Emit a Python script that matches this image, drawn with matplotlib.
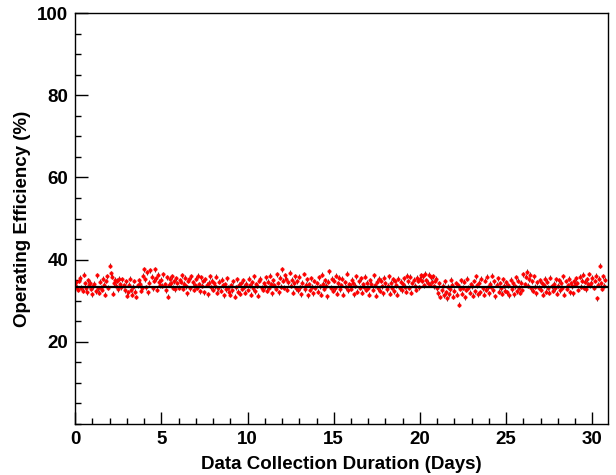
import numpy as np
import matplotlib
matplotlib.use("Agg")
import matplotlib.pyplot as plt
from matplotlib.ticker import MultipleLocator

# operating efficiency (%) sampled every 1.5 h, one row per day
efficiency = [
    33.8, 34.5, 33.2, 32.6, 34.9, 35.6, 33.1, 32.4, 36.3, 34.2, 33.0, 32.1, 35.0, 33.7, 34.4, 32.9,
    31.6, 33.5, 34.1, 32.3, 36.2, 33.0, 31.9, 34.6, 33.2, 32.7, 35.4, 33.9, 31.4, 34.8, 35.9, 33.1,
    38.5, 36.7, 35.8, 31.7, 34.2, 35.1, 33.6, 34.9, 32.8, 35.4, 34.0, 33.3, 35.2, 33.8, 32.5, 34.7,
    31.2, 32.0, 33.9, 35.3, 32.6, 31.5, 33.4, 34.8, 32.2, 30.9, 33.7, 35.0, 34.1, 32.4, 33.1, 36.1,
    37.6, 35.2, 33.3, 36.9, 32.1, 34.4, 37.4, 35.8, 33.0, 34.9, 37.6, 35.5, 32.7, 36.3, 34.6, 33.8,
    35.1, 33.6, 36.4, 34.0, 32.5, 35.7, 31.0, 33.9, 35.3, 34.2, 35.9, 33.1, 34.7, 32.8, 35.5, 34.3,
    33.2, 35.0, 34.6, 36.2, 32.9, 34.1, 35.6, 33.5, 31.8, 34.9, 35.2, 33.0, 36.0, 34.5, 32.6, 33.7,
    35.4, 33.1, 36.1, 34.0, 32.3, 35.7, 33.6, 34.8, 32.0, 35.2, 33.9, 31.6, 34.4, 36.0, 33.3, 34.9,
    32.7, 34.2, 33.5, 35.8, 31.9, 33.0, 34.6, 32.4, 35.1, 33.7, 31.3, 34.0, 32.8, 35.5, 33.2, 32.1,
    31.4, 33.8, 32.5, 34.7, 31.0, 33.3, 35.2, 32.2, 33.9, 31.7, 34.3, 32.9, 35.0, 33.4, 31.9, 34.1,
    32.6, 35.3, 33.7, 31.5, 34.5, 33.0, 35.9, 32.3, 34.0, 33.6, 31.2, 34.8, 35.4, 33.1, 32.7, 34.2,
    33.5, 35.7, 32.4, 34.6, 33.2, 36.1, 34.0, 31.8, 35.0, 33.8, 32.9, 36.4, 34.3, 32.1, 35.6, 33.4,
    37.6, 34.9, 33.1, 36.2, 35.4, 32.7, 34.5, 36.8, 33.6, 35.1, 31.9, 34.2, 36.0, 33.0, 34.7, 32.5,
    35.8, 33.3, 31.6, 34.4, 36.5, 32.8, 33.9, 35.2, 31.3, 34.0, 32.6, 35.5, 33.4, 31.8, 34.8, 33.1,
    34.3, 32.2, 35.7, 33.5, 31.5, 36.3, 34.1, 32.9, 35.0, 33.6, 31.1, 34.6, 37.2, 33.2, 35.3, 32.4,
    34.9, 33.0, 36.1, 31.7, 34.2, 35.6, 32.8, 33.7, 35.4, 31.4, 34.5, 33.3, 36.6, 32.5, 34.0, 33.8,
    32.9, 35.1, 34.3, 31.6, 33.6, 36.0, 32.2, 34.7, 33.1, 35.5, 31.9, 34.0, 33.4, 35.8, 32.6, 34.4,
    33.2, 31.5, 35.0, 34.1, 32.7, 36.2, 33.8, 31.2, 34.6, 33.0, 35.3, 32.4, 34.9, 33.5, 31.8, 35.6,
    34.2, 32.8, 33.6, 35.9, 31.7, 34.4, 33.1, 35.2, 32.3, 34.8, 33.7, 31.4, 35.4, 33.0, 34.6, 32.5,
    34.0, 35.5, 33.4, 32.2, 36.1, 34.7, 33.2, 35.8, 31.9, 34.3, 35.1, 33.6, 32.7, 35.6, 34.9, 33.3,
    35.4, 36.2, 34.8, 35.9, 33.7, 36.6, 35.0, 34.4, 36.3, 33.9, 35.7, 34.6, 36.0, 33.5, 34.9, 35.3,
    33.0, 31.8, 34.2, 30.9, 32.5, 33.6, 31.3, 34.7, 32.1, 30.6, 33.4, 31.6, 32.8, 35.1, 33.9, 31.0,
    32.4, 34.3, 31.5, 33.8, 29.0, 32.9, 35.0, 31.7, 33.2, 34.6, 30.8, 32.6, 35.4, 33.1, 31.9, 34.0,
    33.5, 31.2, 34.8, 32.3, 36.0, 33.7, 31.6, 34.4, 32.0, 35.3, 33.0, 31.4, 34.9, 32.7, 35.8, 33.3,
    31.8, 34.1, 33.4, 36.1, 32.5, 34.7, 31.1, 33.9, 35.5, 32.2, 34.3, 33.0, 31.7, 35.2, 33.6, 32.4,
    34.5, 32.1, 33.7, 31.3, 35.1, 32.8, 34.2, 31.6, 33.5, 35.7, 32.3, 34.9, 33.1, 31.9, 34.4, 32.6,
    36.4, 34.0, 35.8, 37.0, 33.6, 35.2, 36.3, 33.0, 34.7, 32.4, 35.9, 33.4, 31.8, 34.5, 33.2, 35.0,
    32.7, 34.3, 31.5, 33.8, 35.4, 32.2, 34.6, 33.1, 31.9, 35.6, 33.5, 32.4, 34.1, 33.0, 35.2, 31.7,
    33.6, 35.0, 32.5, 34.4, 33.2, 36.0, 31.4, 34.8, 32.9, 33.7, 35.3, 32.1, 34.2, 33.5, 31.8, 34.7,
    33.9, 35.5, 34.3, 32.6, 35.8, 33.4, 34.9, 36.3, 33.1, 34.6, 32.8, 35.2, 34.0, 36.5, 33.7, 34.4,
    35.6, 33.2, 34.8, 36.1, 30.6, 33.9, 35.4, 38.5, 34.2, 32.9, 36.0, 33.6, 35.1,
]
eff_err = 0.6          # statistical error on each point
fit_level = 33.4       # constant fit
samples_per_day = 16
x_max = 30.9

days = np.arange(len(efficiency)) / samples_per_day

plt.rcParams['font.family'] = ['Liberation Sans', 'DejaVu Sans']
plt.rcParams['font.weight'] = 'bold'

fig = plt.figure(figsize=(6.16, 4.75), dpi=100)
ax = fig.add_axes([0.1218, 0.1074, 0.8652, 0.8652])

ax.errorbar(days, efficiency, yerr=eff_err, fmt='o', ms=2.5,
            mfc='red', mec='red', mew=0.3, ecolor='#222222', elinewidth=0.6,
            capsize=0, zorder=2)
ax.plot([0, x_max], [fit_level, fit_level], color='black', lw=1.6, zorder=3)

ax.set_xlim(0, x_max)
ax.set_ylim(0, 100)
ax.set_yticks([20, 40, 60, 80, 100])
ax.xaxis.set_major_locator(MultipleLocator(5))
ax.xaxis.set_minor_locator(MultipleLocator(1))
ax.yaxis.set_minor_locator(MultipleLocator(5))
ax.tick_params(which='both', direction='in', top=False, right=False,
               labelsize=13.5, width=1)
ax.tick_params(which='major', length=9, pad=5)
ax.tick_params(which='minor', length=4.5)
for lab in ax.get_xticklabels() + ax.get_yticklabels():
    lab.set_fontweight('bold')

ax.set_xlabel('Data Collection Duration (Days)', fontsize=13.5,
              fontweight='bold', labelpad=6)
ax.set_ylabel('Operating Efficiency (%)', fontsize=13.5,
              fontweight='bold', labelpad=4)

for s in ax.spines.values():
    s.set_linewidth(1)

fig.savefig('out.png', dpi=100)
